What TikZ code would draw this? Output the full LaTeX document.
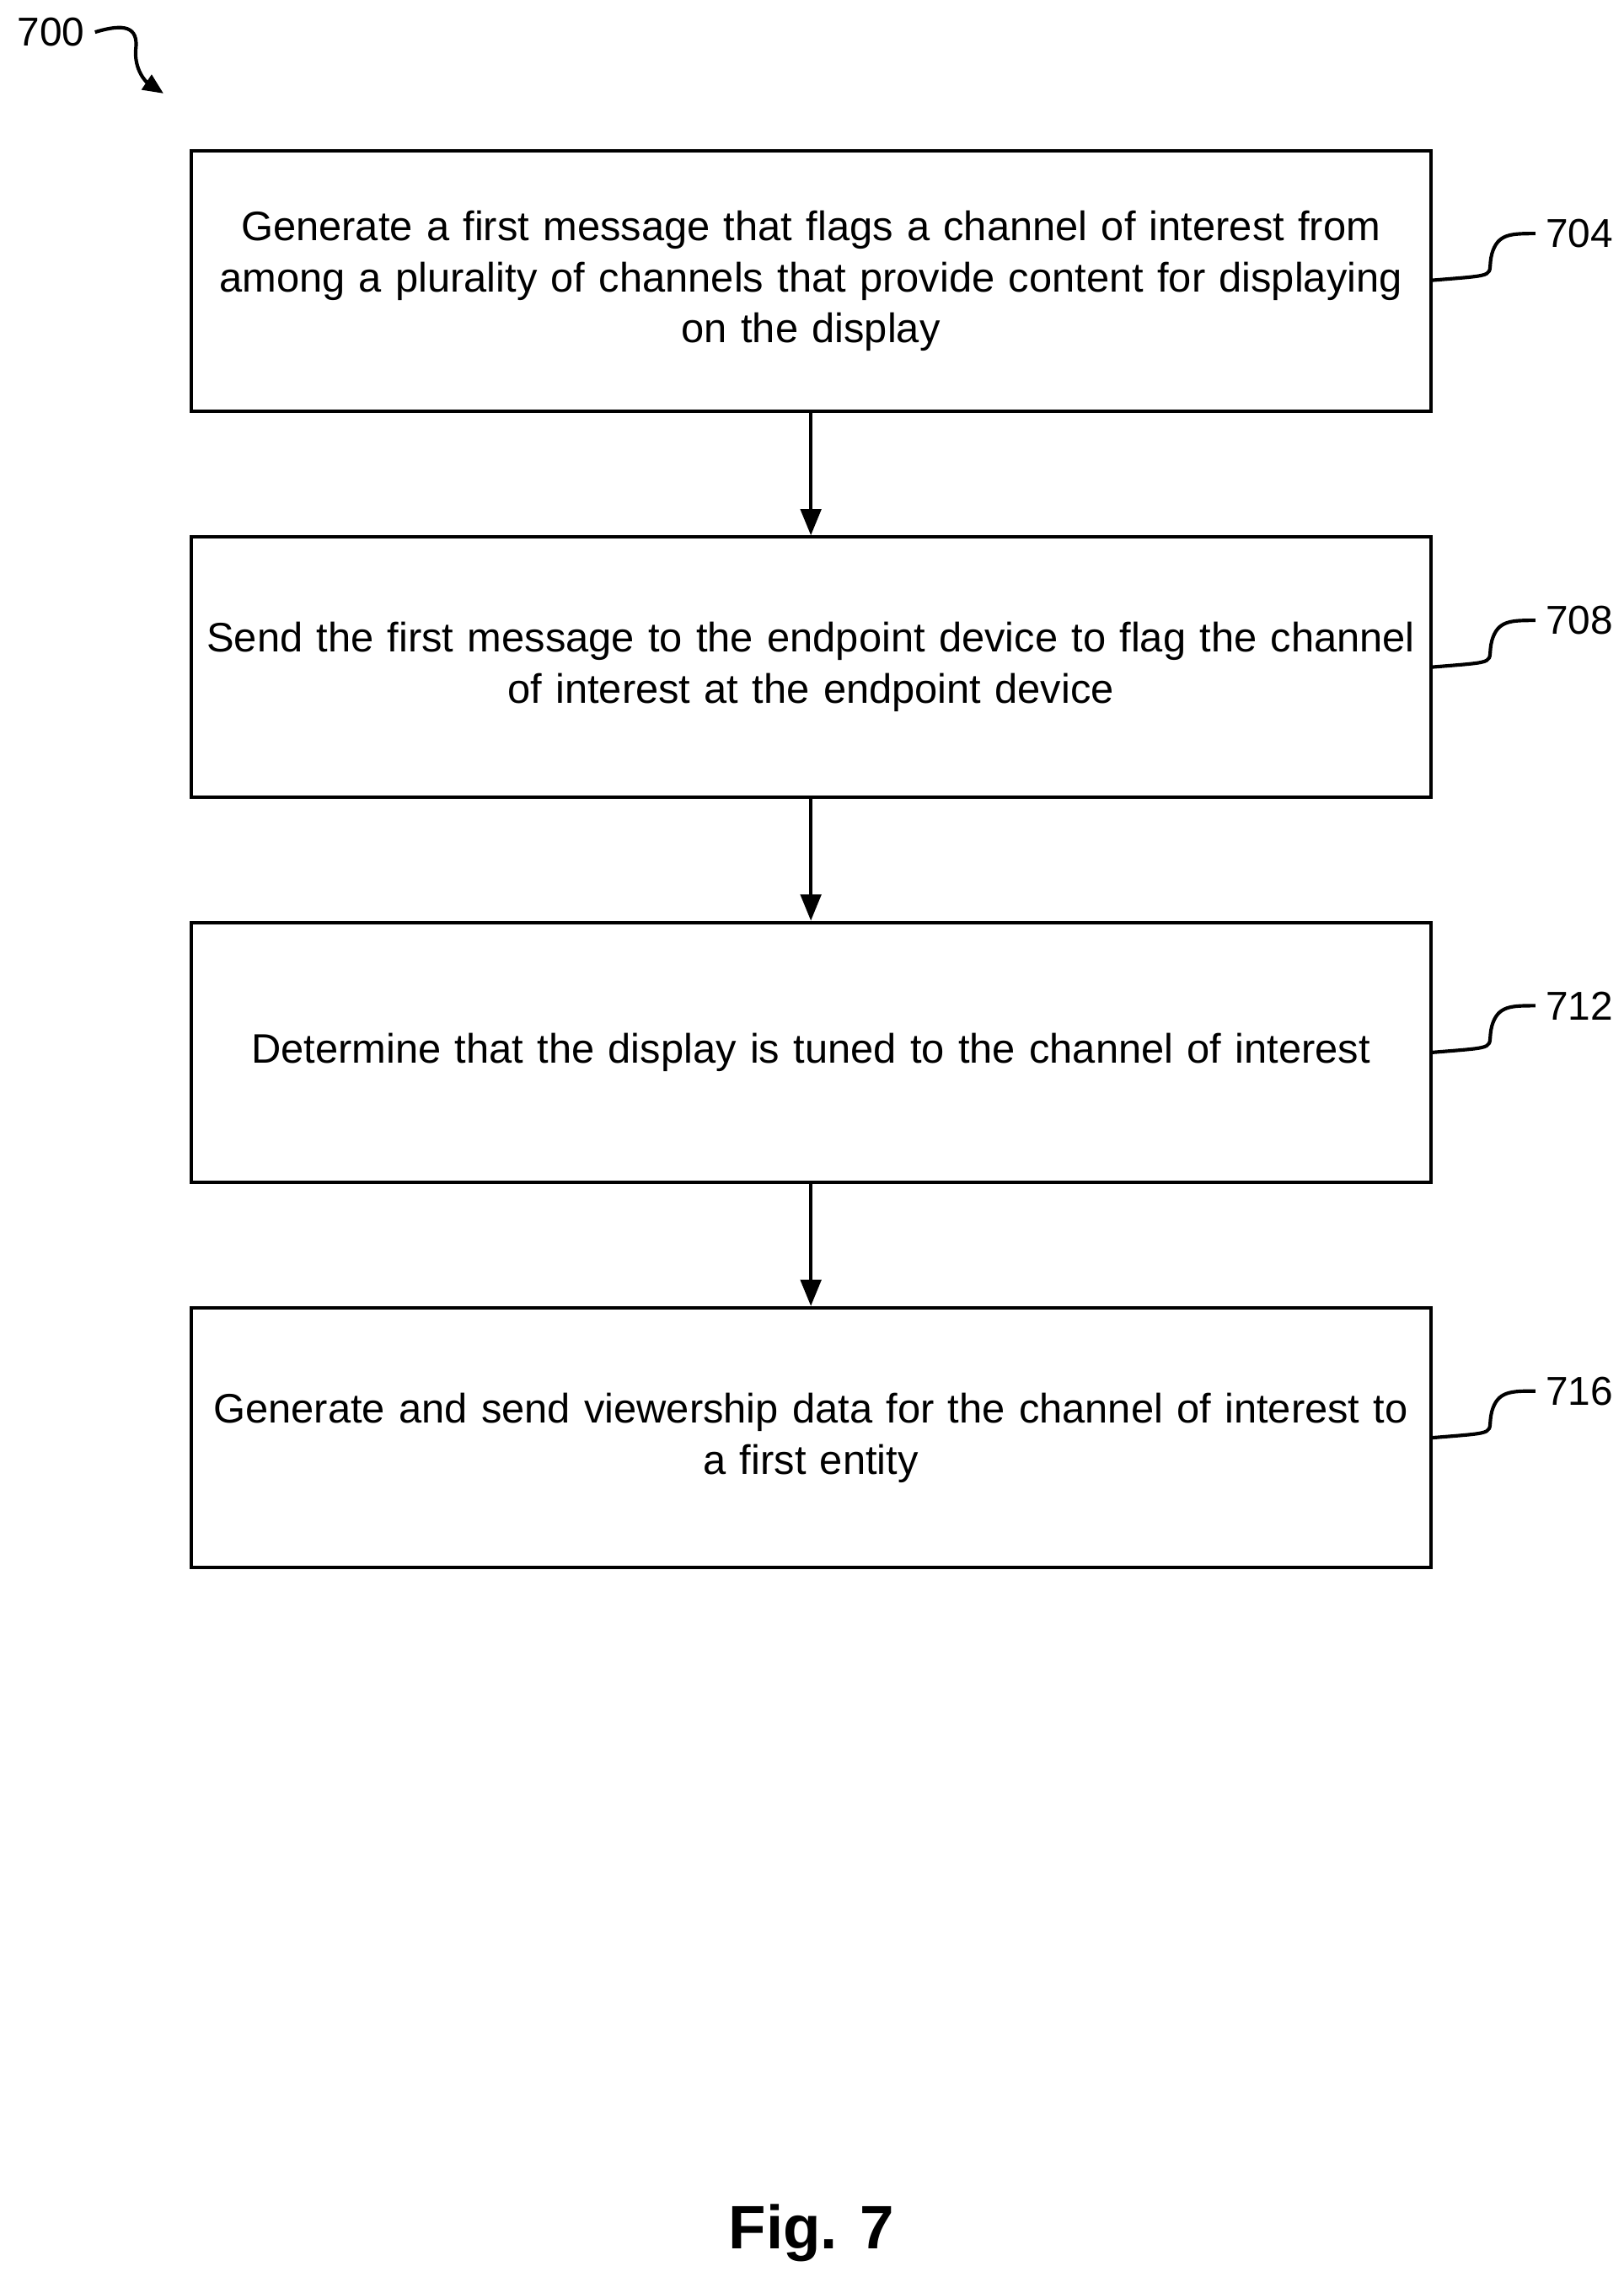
\documentclass[tikz,border=0pt]{standalone}
\usepackage{fontspec}
\setmainfont{Liberation Sans}
\usetikzlibrary{arrows.meta, positioning}

\begin{document}
\begin{tikzpicture}
        [x=0.5pt, y=-0.5pt,
        stepbox/.style={rectangle, draw=black, line width=1.2pt, minimum width=421.5pt,
           minimum height=89pt, text width=418pt, align=center,
           font=\fontsize{14.1}{17.5}\selectfont},
        arr/.style={-{Triangle[length=9pt,width=7pt]},line width=1.2pt},
        tag/.style={font=\fontsize{13.8}{15}\selectfont},
        squig/.style={line width=1.2pt}]
        \useasboundingbox (0,0) rectangle (1112,1560);
        % boxes
        \node (S1) at (555.5, 192.5) [stepbox] {Generate a first message that flags a channel of interest from\\ among a plurality of channels that provide content for displaying\\ on the display};
        \node (S2) at (555.5, 457) [stepbox] {Send the first message to the endpoint device to flag the channel\\ of interest at the endpoint device};
        \node (S3) at (555.5, 721) [stepbox] {Determine that the display is tuned to the channel of interest};
        \node (S4) at (555.5, 985) [stepbox] {Generate and send viewership data for the channel of interest to\\ a first entity};
        \draw[arr] (S1) -- (S2);
        \draw[arr] (S2) -- (S3);
        \draw[arr] (S3) -- (S4);
        % reference numerals
        \foreach \n/\s/\y in {704/S1/160, 708/S2/425, 712/S3/689, 716/S4/953} {
           \node (L\n) at (1082, \y) [tag] {\n};
           \draw[squig] (\s.east |- 0,\y+32) .. controls (1030,\y+28) and (1018,\y+30) .. (1022,\y+14)
              .. controls (1026,\y) and (1035,\y) .. (L\n.west);
        }
        % figure numeral
        \node (L700) at (35, 22) [tag] {700};
        \coordinate (A700) at (112, 64);
        \draw[line width=1.2pt, -{Triangle[length=7pt,width=6pt]}] (L700.east) .. controls (85,16) and (95,18) .. (93,34)
           .. controls (92,48) and (100,56) .. (A700);
        \node (fig) at (556, 1530) [font=\fontsize{21}{25}\selectfont\bfseries] {Fig. 7};
     \end{tikzpicture}
\end{document}
